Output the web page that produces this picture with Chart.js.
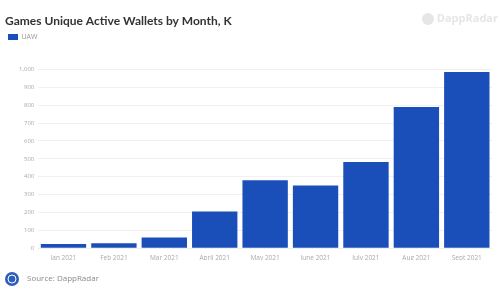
<!DOCTYPE html>
<html>
<head>
<meta charset="utf-8">
<script src="https://cdn.jsdelivr.net/npm/chart.js"></script>
<style>
  html, body { margin: 0; padding: 0; background: #fff; }
  #wrap { width: 500px; height: 300px; }
</style>
</head>
<body>
<div id="wrap"><canvas id="c" width="500" height="300"></canvas></div>
<script>
const months = ['Jan 2021', 'Feb 2021', 'Mar 2021', 'April 2021', 'May 2021', 'June 2021', 'July 2021', 'Aug 2021', 'Sept 2021'];
const uaw = [24, 28, 60, 205, 380, 350, 482, 790, 985];
const yTicks = [0, 100, 200, 300, 400, 500, 600, 700, 800, 900, 1000];

const barBlue = '#1a4fba';

// give the legend some extra room below it
const legendGap = {
  id: 'legendGap',
  beforeInit(chart) {
    const fit = chart.legend.fit;
    chart.legend.fit = function () {
      fit.bind(chart.legend)();
      this.height += 19;
    };
  }
};

// footer "Source: DappRadar" and faint brand mark at top right
const extras = {
  id: 'extras',
  afterDraw(chart) {
    const ctx = chart.ctx;
    ctx.save();
    ctx.fillStyle = '#2f5fb8';
    ctx.beginPath();
    ctx.arc(12, 279, 7, 0, Math.PI * 2);
    ctx.fill();
    ctx.strokeStyle = '#fff';
    ctx.lineWidth = 1;
    ctx.beginPath();
    ctx.arc(12, 279, 4, 0, Math.PI * 2);
    ctx.stroke();
    ctx.fillStyle = '#8a8a8a';
    ctx.font = '8px "Open Sans", sans-serif';
    ctx.textBaseline = 'middle';
    ctx.fillText('Source: DappRadar', 27, 279);
    ctx.fillStyle = '#e6e6e6';
    ctx.font = 'bold 11px "Open Sans", sans-serif';
    ctx.textAlign = 'right';
    ctx.fillText('DappRadar', 498, 19);
    ctx.beginPath();
    ctx.arc(428, 19, 6, 0, Math.PI * 2);
    ctx.fill();
    ctx.restore();
  }
};

new Chart(document.getElementById('c'), {
  type: 'bar',
  data: {
    labels: months,
    datasets: [{
      label: 'UAW',
      data: uaw,
      backgroundColor: barBlue,
      borderWidth: 0,
      categoryPercentage: 0.9,
      barPercentage: 1
    }]
  },
  options: {
    responsive: false,
    animation: false,
    layout: { padding: { left: 5, right: 8, top: 6, bottom: 40 } },
    plugins: {
      title: {
        display: true,
        text: 'Games Unique Active Wallets by Month, K',
        align: 'start',
        color: '#333',
        font: { family: 'Lato', size: 12, weight: 'bold' },
        padding: { top: 8, bottom: 2 }
      },
      legend: {
        align: 'start',
        labels: {
          boxWidth: 10,
          boxHeight: 6,
          color: '#999',
          font: { family: 'Open Sans', size: 7 },
          padding: 3
        }
      },
      tooltip: { enabled: false }
    },
    scales: {
      x: {
        grid: { display: false },
        border: { display: false },
        ticks: { color: '#aaa', font: { family: 'Open Sans', size: 6.5 }, maxRotation: 0, padding: -2 }
      },
      y: {
        min: 0,
        max: 1000,
        afterBuildTicks(axis) { axis.ticks = yTicks.map(v => ({ value: v })); },
        afterFit(axis) { axis.width += 10; },
        grid: { color: '#f0f0f0', drawTicks: false },
        border: { display: false },
        ticks: {
          color: '#aaa',
          font: { family: 'Open Sans', size: 6 },
          padding: 4,
          callback: v => v.toLocaleString('en-US')
        }
      }
    }
  },
  plugins: [legendGap, extras]
});
</script>
</body>
</html>
